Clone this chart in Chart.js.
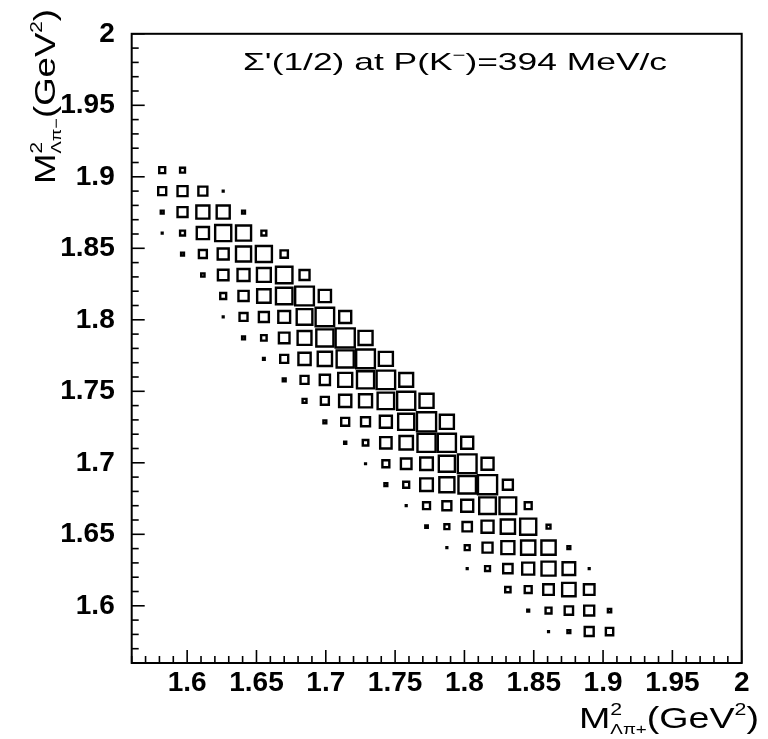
<!DOCTYPE html>
<html>
<head>
<meta charset="utf-8">
<script src="https://cdn.jsdelivr.net/npm/chart.js@4.4.0/dist/chart.umd.min.js"></script>
<style>
html,body{margin:0;padding:0;background:#ffffff;}
canvas{display:block;}
</style>
</head>
<body>
<canvas id="c" width="768" height="739" style="width:768px;height:739px"></canvas>
<script>
// ---- histogram definition (30 x 30 bins, 1.56 .. 2.0 GeV^2 on both axes)
const histLow = 1.56;
const histHigh = 2.0;
const nBins = 30;

// ---- tick labels
const xTickValues = [1.6, 1.65, 1.7, 1.75, 1.8, 1.85, 1.9, 1.95, 2.0];
const xTickLabels = ["1.6", "1.65", "1.7", "1.75", "1.8", "1.85", "1.9", "1.95", "2"];
const yTickValues = [1.6, 1.65, 1.7, 1.75, 1.8, 1.85, 1.9, 1.95, 2.0];
const yTickLabels = ["1.6", "1.65", "1.7", "1.75", "1.8", "1.85", "1.9", "1.95", "2"];
const minorTickStep = 0.01;

// ---- cell contents (relative, max = 100), one row per y bin
const rowBin      = [23, 22, 21, 20, 19, 18, 17, 16, 15, 14, 13, 12, 11, 10, 9, 8, 7, 6, 5, 4, 3, 2, 1];
const rowStartBin = [ 1,  1,  1,  1,  2,  3,  4,  4,  5,  6,  7,  8,  9, 10, 11, 12, 13, 14, 15, 16, 18, 19, 20];
const rowCounts = [
  [35, 30],
  [45, 55, 50, 8],
  [20, 55, 70, 70, 20],
  [8, 30, 66, 85, 80, 30],
  [20, 45, 60, 80, 85, 42],
  [22, 58, 65, 74, 87, 55],
  [35, 56, 72, 87, 98, 66],
  [8, 45, 55, 64, 83, 97, 65],
  [20, 33, 58, 74, 90, 100, 75],
  [14, 45, 66, 76, 90, 98, 75],
  [20, 45, 56, 75, 90, 97, 74],
  [25, 45, 66, 70, 87, 95, 75],
  [20, 45, 50, 65, 85, 100, 75],
  [16, 33, 62, 72, 95, 95, 65],
  [10, 40, 58, 68, 85, 98, 65],
  [20, 35, 68, 80, 92, 100, 55],
  [10, 40, 50, 65, 88, 88, 40],
  [18, 30, 52, 65, 76, 85, 25],
  [10, 30, 55, 70, 76, 76, 20],
  [10, 30, 52, 65, 75, 68, 8],
  [32, 40, 58, 72, 58],
  [15, 35, 47, 55, 22],
  [8, 20, 50, 42]
];

const plotTitle = "\u03A3'(1/2) at P(K";
const plotTitleSup = "\u2212";
const plotTitleEnd = ")=394 MeV/c";

// ---- build the cells from the arrays
const binWidth = (histHigh - histLow) / nBins;
const maxCount = Math.max(...rowCounts.flat());
const cells = [];
rowBin.forEach((jb, r) => {
  rowCounts[r].forEach((c, k) => {
    const ib = rowStartBin[r] + k;
    cells.push({ x: histLow + (ib + 0.5) * binWidth, y: histLow + (jb + 0.5) * binWidth, v: c });
  });
});

const FONT = "'Liberation Sans', Arial, Helvetica, sans-serif";

function boxRadius(ctx) {
  if (!ctx.raw) return 2;
  const s = ctx.chart.scales.x;
  const w = Math.abs(s.getPixelForValue(histLow + binWidth) - s.getPixelForValue(histLow));
  const side = Math.max(ctx.raw.v / maxCount * w - 1.2, 0.8);
  return side / Math.SQRT2;
}

function drawRich(ctx, segs, x0, y0, width, rotate) {
  let prevX = 0, prevW = 0;
  const pos = [];
  segs.forEach(s => {
    ctx.font = (s.weight || 'normal') + ' ' + s.size + 'px ' + FONT;
    const w = ctx.measureText(s.t).width;
    if (s.stack) { pos.push(prevX); prevW = Math.max(prevW, w); }
    else { const x = prevX + prevW; pos.push(x); prevX = x; prevW = w; }
  });
  const total = prevX + prevW;
  ctx.save();
  ctx.translate(x0, y0);
  if (rotate) ctx.rotate(rotate);
  ctx.scale(width / total, 1);
  ctx.fillStyle = '#000';
  ctx.textBaseline = 'alphabetic';
  ctx.textAlign = 'left';
  segs.forEach((s, i) => {
    ctx.font = (s.weight || 'normal') + ' ' + s.size + 'px ' + FONT;
    ctx.fillText(s.t, pos[i], s.dy || 0);
  });
  ctx.restore();
}

const rootFrame = {
  id: 'rootFrame',
  afterDraw(chart) {
    const { ctx, chartArea: a, scales } = chart;
    ctx.save();
    ctx.strokeStyle = '#000';
    // ticks (inside the frame)
    ctx.lineWidth = 1.6;
    const n = Math.round((histHigh - histLow) / minorTickStep);
    for (let k = 0; k <= n; k++) {
      const v = histLow + k * minorTickStep;
      const major = xTickValues.some(t => Math.abs(t - v) < 1e-6);
      const len = major ? 13 : 7;
      const px = scales.x.getPixelForValue(v);
      ctx.beginPath(); ctx.moveTo(px, a.bottom); ctx.lineTo(px, a.bottom - len); ctx.stroke();
      const majorY = yTickValues.some(t => Math.abs(t - v) < 1e-6);
      const leny = majorY ? 13 : 7;
      const py = scales.y.getPixelForValue(v);
      ctx.beginPath(); ctx.moveTo(a.left, py); ctx.lineTo(a.left + leny, py); ctx.stroke();
    }
    // frame
    ctx.lineWidth = 2;
    ctx.strokeRect(a.left, a.top, a.right - a.left, a.bottom - a.top);
    ctx.restore();

    // plot title
    drawRich(ctx, [
      { t: plotTitle, size: 24 },
      { t: plotTitleSup, size: 15, dy: -10 },
      { t: plotTitleEnd, size: 24 }
    ], 243, 70, 424, 0);

    // x axis title
    drawRich(ctx, [
      { t: 'M', size: 30 },
      { t: '2', size: 17, dy: -13 },
      { t: '\u039B\u03C0+', size: 15, dy: 6, stack: true },
      { t: '(GeV', size: 30 },
      { t: '2', size: 17, dy: -13 },
      { t: ')', size: 30 }
    ], 579, 728, 180, 0);

    // y axis title (rotated)
    drawRich(ctx, [
      { t: 'M', size: 30 },
      { t: '2', size: 17, dy: -13 },
      { t: '\u039B\u03C0\u2212', size: 15, dy: 6, stack: true },
      { t: '(GeV', size: 30 },
      { t: '2', size: 17, dy: -13 },
      { t: ')', size: 30 }
    ], 55, 184, 175, -Math.PI / 2);
  }
};

new Chart(document.getElementById('c').getContext('2d'), {
  type: 'scatter',
  data: {
    datasets: [{
      data: cells,
      pointStyle: 'rect',
      pointRadius: boxRadius,
      pointHoverRadius: boxRadius,
      pointBorderColor: '#000',
      pointBackgroundColor: 'rgba(0,0,0,0)',
      pointBorderWidth: 2.4,
      pointHoverBorderWidth: 2.4
    }]
  },
  options: {
    responsive: false,
    animation: false,
    devicePixelRatio: 1,
    events: [],
    layout: { padding: { left: 0, top: 22.7, right: 26.3, bottom: 0 } },
    plugins: { legend: { display: false }, tooltip: { enabled: false }, title: { display: false } },
    scales: {
      x: {
        type: 'linear', min: histLow, max: histHigh,
        afterBuildTicks: s => { s.ticks = xTickValues.map(v => ({ value: v })); },
        afterFit: s => { s.height = 76; },
        grid: { display: false, drawTicks: false },
        border: { display: false },
        ticks: {
          autoSkip: false, maxRotation: 0, minRotation: 0, padding: 3, color: '#000',
          font: { family: FONT, size: 28, weight: 'bold' },
          callback: (v, i) => xTickLabels[i]
        }
      },
      y: {
        type: 'linear', min: histLow, max: histHigh,
        afterBuildTicks: s => { s.ticks = yTickValues.map(v => ({ value: v })); },
        afterFit: s => { s.width = 131.7; },
        grid: { display: false, drawTicks: false },
        border: { display: false },
        ticks: {
          autoSkip: false, padding: 17, color: '#000',
          font: { family: FONT, size: 28, weight: 'bold' },
          callback: (v, i) => yTickLabels[i]
        }
      }
    }
  },
  plugins: [rootFrame]
});
</script>
</body>
</html>
